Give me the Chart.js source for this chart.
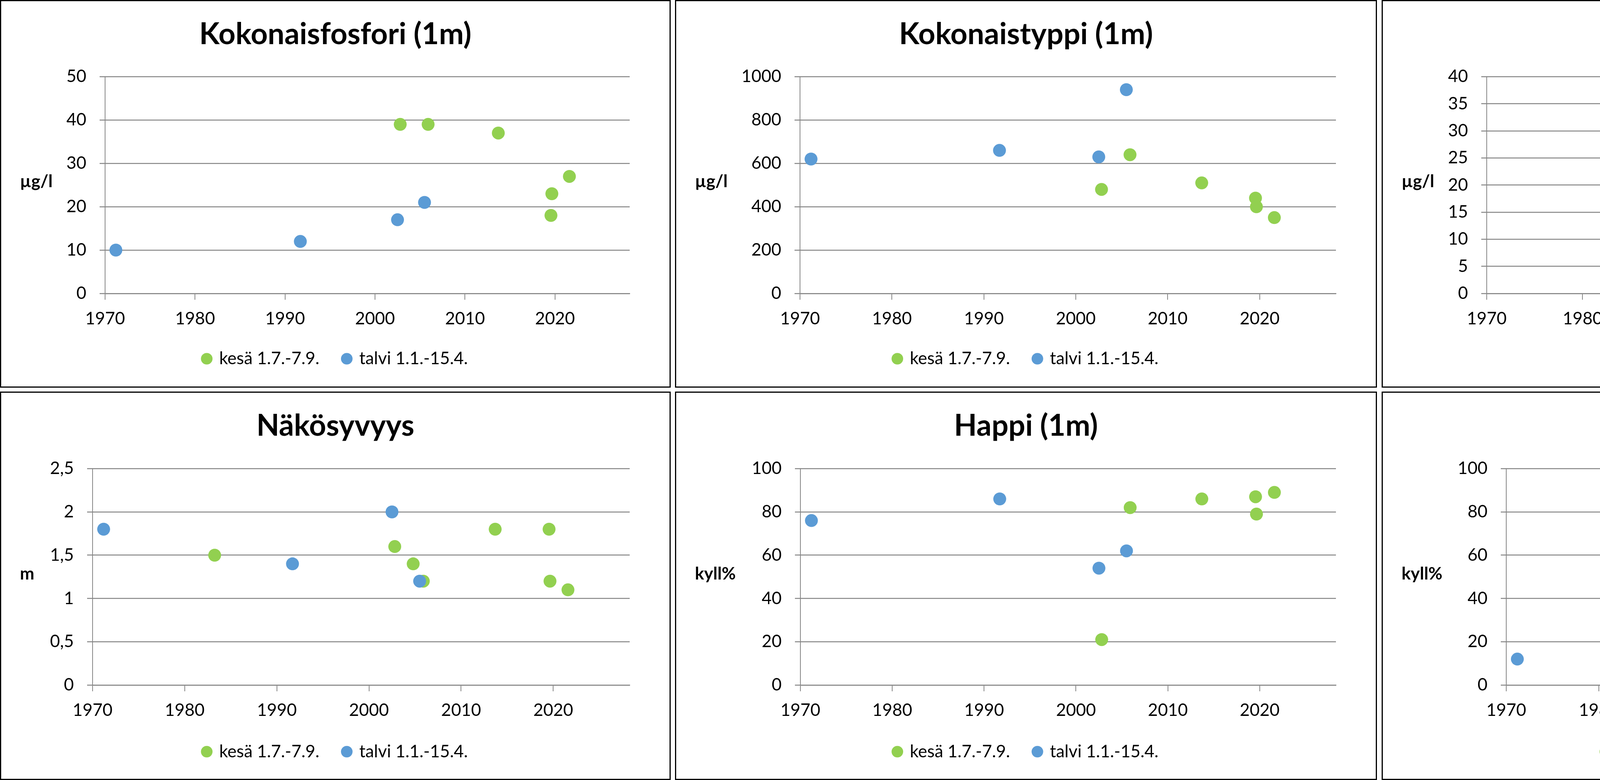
<!DOCTYPE html>
<html>
<head>
<meta charset="utf-8">
<script src="https://cdn.jsdelivr.net/npm/chart.js@4"></script>
<style>
  html, body { margin: 0; padding: 0; background: #fff; }
  .panel { position: absolute; box-sizing: border-box; border: 3px solid #000; background: #fff; }
  .panel canvas { display: block; }
</style>
</head>
<body>
<div class="panel" style="left:0px;top:0px;width:1717px;height:992px"><canvas id="c1"></canvas></div>
<div class="panel" style="left:1728px;top:0px;width:1797px;height:992px"><canvas id="c2"></canvas></div>
<div class="panel" style="left:3537px;top:0px;width:1804px;height:992px"><canvas id="c3"></canvas></div>
<div class="panel" style="left:0px;top:1002px;width:1717px;height:994px"><canvas id="c4"></canvas></div>
<div class="panel" style="left:1728px;top:1002px;width:1797px;height:994px"><canvas id="c5"></canvas></div>
<div class="panel" style="left:3537px;top:1002px;width:1804px;height:994px"><canvas id="c6"></canvas></div>
<script>
// sampling dates (decimal years)
const kesaVuodet = [1983.25, 2002.8, 2004.8, 2005.9, 2013.7, 2019.55, 2019.65, 2021.6];
const talviVuodet = [1971.2, 1991.7, 2002.5, 2005.5];

// values, same order as the dates above (null = not measured)
const fosforiKesa = [null, 39, null, 39, 37, 18, 23, 27];
const fosforiTalvi = [10, 12, 17, 21];
const typpiKesa = [null, 480, null, 640, 510, 440, 400, 350];
const typpiTalvi = [620, 660, 630, 940];
const klorofylliKesa = [13, 10, null, 14, 38, 8.7, 12, 12];
const nakoKesa = [1.5, 1.6, 1.4, 1.2, 1.8, 1.8, 1.2, 1.1];
const nakoTalvi = [1.8, 1.4, 2.0, 1.2];
const happiKesa = [null, 21, null, 82, 86, 87, 79, 89];
const happiTalvi = [76, 86, 54, 62];
const happiPohjaKesa = [null, 86, 6, 46, 2, 86, 76, 80];
const happiPohjaTalvi = [12, 13, 26, 35];

const kesaLabel = "kesä 1.7.-7.9.";
const talviLabel = "talvi 1.1.-15.4.";
const xMin = 1970, xMax = 2028.3, xStep = 10;

const GREEN = "#92D050";
const BLUE = "#5B9BD5";
const GRID = "#868686";

Chart.defaults.font.family = "Lato, 'Open Sans', sans-serif";
Chart.defaults.color = "#000";

const panels = [
  { id: "c1", title: "Kokonaisfosfori (1m)", unit: "µg/l", kesa: fosforiKesa, talvi: fosforiTalvi, yMax: 50, yStep: 10, left: 266, right: 102, row: 0 },
  { id: "c2", title: "Kokonaistyppi (1m)", unit: "µg/l", kesa: typpiKesa, talvi: typpiTalvi, yMax: 1000, yStep: 200, left: 317, right: 102, row: 0 },
  { id: "c3", title: "Klorofylli-a (0-2m)", unit: "µg/l", kesa: klorofylliKesa, talvi: null, yMax: 40, yStep: 5, left: 266, right: 101, row: 0 },
  { id: "c4", title: "Näkösyvyys", unit: "m", kesa: nakoKesa, talvi: nakoTalvi, yMax: 2.5, yStep: 0.5, left: 234, right: 102, row: 1 },
  { id: "c5", title: "Happi (1m)", unit: "kyll%", kesa: happiKesa, talvi: happiTalvi, yMax: 100, yStep: 20, left: 318, right: 102, row: 1 },
  { id: "c6", title: "Happi (pohja)", unit: "kyll%", kesa: happiPohjaKesa, talvi: happiPohjaTalvi, yMax: 100, yStep: 20, left: 316, right: 101, row: 1 }
];

// per-row spacing
const rows = [
  { titleTop: 40, titleBottom: 62, legendPad: 39, xHeight: 85, unitY: 476 },
  { titleTop: 40, titleBottom: 63, legendPad: 37.5, xHeight: 88.5, unitY: 478 }
];

function toPoints(xs, ys) {
  return xs.map((x, i) => ({ x: x, y: ys[i] })).filter(p => p.y !== null);
}

// horizontal unit label left of the y axis
const unitLabel = {
  id: "unitLabel",
  afterDraw(chart, args, opts) {
    const ctx = chart.ctx;
    ctx.save();
    ctx.font = "bold 44px Lato, 'Open Sans', sans-serif";
    ctx.fillStyle = "#000";
    ctx.textAlign = "left";
    ctx.textBaseline = "alphabetic";
    ctx.fillText(opts.text, 48, opts.y);
    ctx.restore();
  }
};

panels.forEach(p => {
  const r = rows[p.row];
  const datasets = [{
    label: kesaLabel,
    data: toPoints(kesaVuodet, p.kesa),
    backgroundColor: GREEN,
    borderColor: GREEN,
    order: 1
  }];
  if (p.talvi) {
    datasets.push({
      label: talviLabel,
      data: toPoints(talviVuodet, p.talvi),
      backgroundColor: BLUE,
      borderColor: BLUE,
      order: 0
    });
  }

  new Chart(document.getElementById(p.id), {
    type: "scatter",
    data: { datasets: datasets },
    plugins: [unitLabel],
    options: {
      responsive: true,
      maintainAspectRatio: false,
      animation: false,
      devicePixelRatio: 1,
      layout: { padding: { left: 0, right: 0, top: 0, bottom: r.legendPad } },
      elements: { point: { radius: 16.5, hoverRadius: 16.5, borderWidth: 0, pointStyle: "circle" } },
      plugins: {
        title: {
          display: true,
          text: p.title,
          color: "#000",
          font: { size: 76, weight: "bold", lineHeight: 1.2 },
          padding: { top: r.titleTop, bottom: r.titleBottom }
        },
        legend: {
          display: true,
          position: "bottom",
          labels: {
            usePointStyle: true,
            pointStyle: "circle",
            boxWidth: 20,
            boxHeight: 21,
            padding: 60,
            color: "#000",
            font: { size: 44 },
            sort: (a, b) => a.datasetIndex - b.datasetIndex
          }
        },
        tooltip: { enabled: false },
        unitLabel: { text: p.unit, y: r.unitY }
      },
      scales: {
        x: {
          type: "linear",
          min: xMin,
          max: xMax,
          afterFit(s) { s.height = r.xHeight; },
          ticks: {
            stepSize: xStep,
            includeBounds: false,
            padding: 22,
            font: { size: 44 },
            maxRotation: 0,
            callback: v => String(v)
          },
          grid: { drawOnChartArea: false, drawTicks: true, tickLength: 16, color: GRID, lineWidth: 2 },
          border: { display: true, color: GRID, width: 2.5 }
        },
        y: {
          min: 0,
          max: p.yMax,
          afterFit(s) { s.width = p.left; },
          ticks: {
            stepSize: p.yStep,
            padding: 34,
            font: { size: 44 },
            callback: v => String(v).replace(".", ",")
          },
          grid: { color: GRID, lineWidth: 2.5, drawTicks: true, tickLength: 14 },
          border: { display: true, color: GRID, width: 2 }
        },
        yR: {
          position: "right",
          display: true,
          afterFit(s) { s.width = p.right; },
          ticks: { display: false },
          grid: { display: false },
          border: { display: false }
        }
      }
    }
  });
});
</script>
</body>
</html>
